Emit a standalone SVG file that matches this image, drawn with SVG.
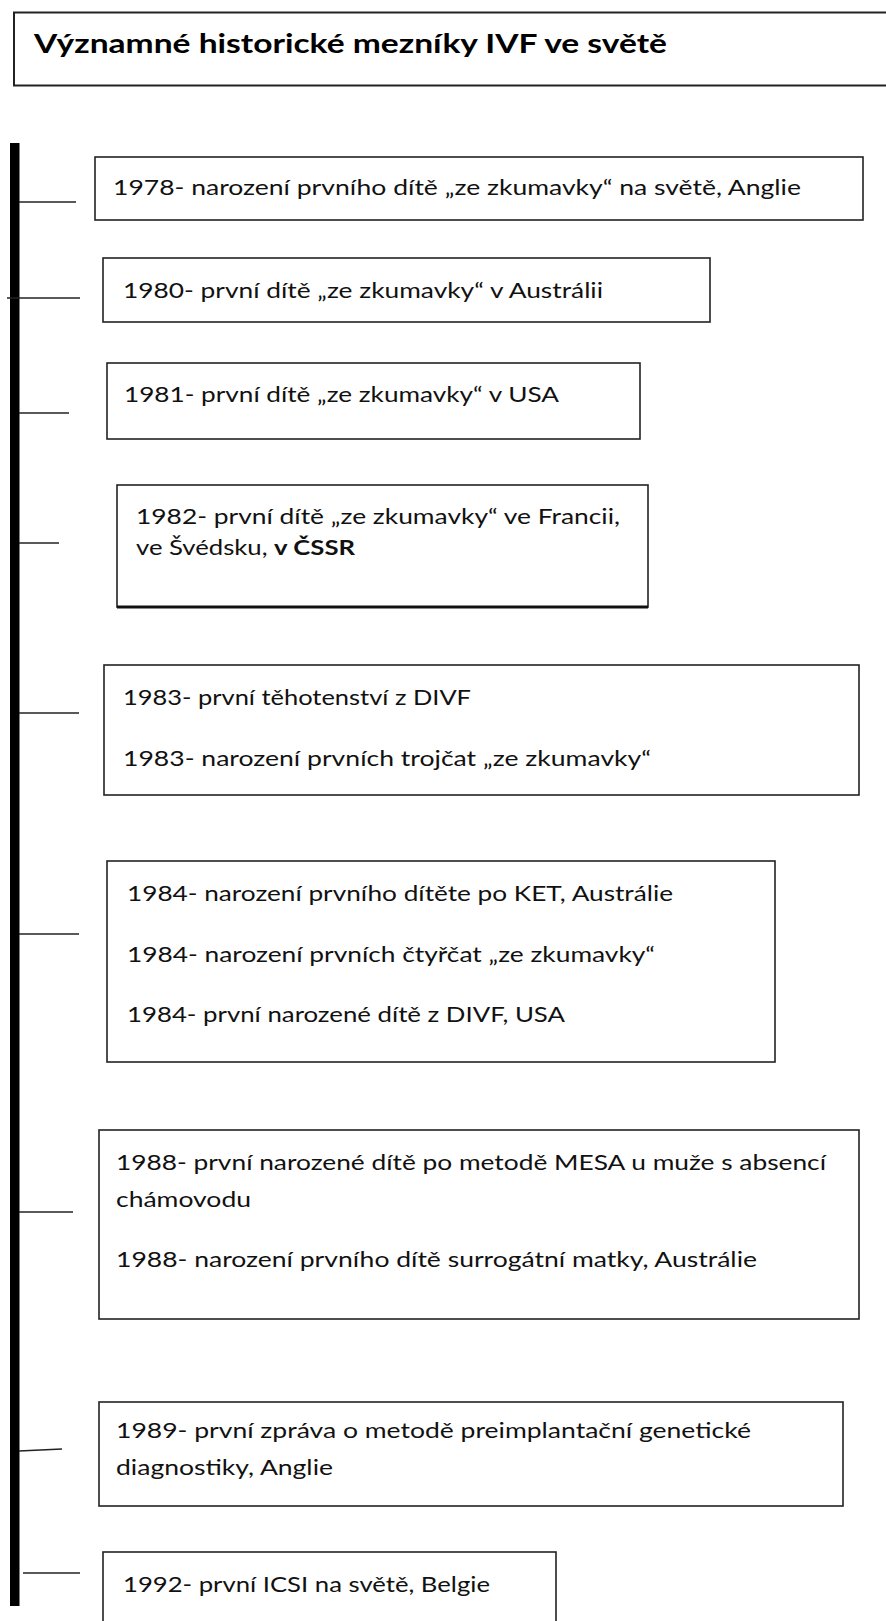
<svg xmlns="http://www.w3.org/2000/svg" width="886" height="1621" viewBox="0 0 886 1621">
<style>
.box{fill:#fff;stroke:#222;stroke-width:1.6}
.tick{stroke:#222;stroke-width:1.6;fill:none}
.t{font-family:Lato,"Liberation Sans",sans-serif;font-size:21px;fill:#111}
.title{font-family:Lato,"Liberation Sans",sans-serif;font-size:27px;font-weight:bold;fill:#000}
.b{font-weight:bold}
</style>
<rect width="886" height="1621" fill="#fff"/>
<g id="title">
<rect class="box" x="14" y="12.5" width="900" height="73" style="stroke-width:2"/>
<text class="title" x="34" y="53" textLength="633" lengthAdjust="spacingAndGlyphs">Významné historické mezníky IVF ve světě</text>
</g>
<g id="connectors">
<rect x="10" y="143" width="9.5" height="1463" fill="#000"/>
<line class="tick" x1="19" y1="202" x2="76" y2="202"/>
<line class="tick" x1="7" y1="298" x2="80" y2="298"/>
<line class="tick" x1="19" y1="413" x2="69" y2="413"/>
<line class="tick" x1="19" y1="543" x2="59" y2="543"/>
<line class="tick" x1="19" y1="713" x2="79" y2="713"/>
<line class="tick" x1="19" y1="934" x2="79" y2="934"/>
<line class="tick" x1="19" y1="1212" x2="73" y2="1212"/>
<line class="tick" x1="19" y1="1451" x2="62" y2="1449"/>
<line class="tick" x1="23" y1="1573" x2="80" y2="1573"/>
</g>
<g id="n1978">
<rect class="box" x="95" y="157" width="768" height="63"/>
<text class="t" x="113" y="195" textLength="688" lengthAdjust="spacingAndGlyphs">1978- narození prvního dítě „ze zkumavky“ na světě, Anglie</text>
</g>
<g id="n1980">
<rect class="box" x="103" y="258" width="607" height="64"/>
<text class="t" x="123" y="298" textLength="480" lengthAdjust="spacingAndGlyphs">1980- první dítě „ze zkumavky“ v Austrálii</text>
</g>
<g id="n1981">
<rect class="box" x="107" y="363" width="533" height="76"/>
<text class="t" x="124" y="402" textLength="435" lengthAdjust="spacingAndGlyphs">1981- první dítě „ze zkumavky“ v USA</text>
</g>
<g id="n1982">
<rect class="box" x="117" y="485" width="531" height="122"/>
<line x1="117" y1="607" x2="648" y2="607" stroke="#111" stroke-width="3"/>
<text class="t" x="136" y="524" textLength="484" lengthAdjust="spacingAndGlyphs">1982- první dítě „ze zkumavky“ ve Francii,</text>
<text class="t" x="136" y="555" textLength="219" lengthAdjust="spacingAndGlyphs">ve Švédsku, <tspan class="b">v ČSSR</tspan></text>
</g>
<g id="n1983">
<rect class="box" x="104" y="665" width="755" height="130"/>
<text class="t" x="123" y="705" textLength="348" lengthAdjust="spacingAndGlyphs">1983- první těhotenství z DIVF</text>
<text class="t" x="123" y="766" textLength="528" lengthAdjust="spacingAndGlyphs">1983- narození prvních trojčat „ze zkumavky“</text>
</g>
<g id="n1984">
<rect class="box" x="107" y="861" width="668" height="201"/>
<text class="t" x="127" y="901" textLength="546" lengthAdjust="spacingAndGlyphs">1984- narození prvního dítěte po KET, Austrálie</text>
<text class="t" x="127" y="962" textLength="528" lengthAdjust="spacingAndGlyphs">1984- narození prvních čtyřčat „ze zkumavky“</text>
<text class="t" x="127" y="1022" textLength="438" lengthAdjust="spacingAndGlyphs">1984- první narozené dítě z DIVF, USA</text>
</g>
<g id="n1988">
<rect class="box" x="99" y="1130" width="760" height="189"/>
<text class="t" x="116" y="1170" textLength="710" lengthAdjust="spacingAndGlyphs">1988- první narozené dítě po metodě MESA u muže s absencí</text>
<text class="t" x="116" y="1207" textLength="135" lengthAdjust="spacingAndGlyphs">chámovodu</text>
<text class="t" x="116" y="1267" textLength="641" lengthAdjust="spacingAndGlyphs">1988- narození prvního dítě surrogátní matky, Austrálie</text>
</g>
<g id="n1989">
<rect class="box" x="99" y="1402" width="744" height="104"/>
<text class="t" x="116" y="1438" textLength="635" lengthAdjust="spacingAndGlyphs">1989- první zpráva o metodě preimplantační genetické</text>
<text class="t" x="116" y="1475" textLength="217" lengthAdjust="spacingAndGlyphs">diagnostiky, Anglie</text>
</g>
<g id="n1992">
<rect class="box" x="103" y="1552" width="453" height="100"/>
<text class="t" x="123" y="1592" textLength="367" lengthAdjust="spacingAndGlyphs">1992- první ICSI na světě, Belgie</text>
</g>
</svg>
